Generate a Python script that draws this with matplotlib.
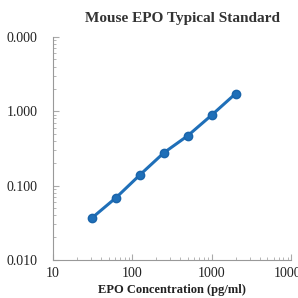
import matplotlib
matplotlib.use("Agg")
import matplotlib.pyplot as plt
from matplotlib.ticker import LogLocator, NullFormatter, FixedLocator, FixedFormatter

conc = [31.25, 62.5, 125, 250, 500, 1000, 2000]
od = [0.037, 0.069, 0.14, 0.277, 0.47, 0.89, 1.73]
xticks = [10, 100, 1000, 10000]
xticklabels = ["10", "100", "1000", "10000"]
yticks = [0.01, 0.1, 1, 10]
yticklabels = ["0.010", "0.100", "1.000", "0.000"]

plt.rcParams['font.family'] = ['Liberation Serif', 'DejaVu Serif']
fig = plt.figure(figsize=(2.98, 2.98), dpi=100)
ax = fig.add_axes([0.178, 0.128, 0.799, 0.748])
ax.plot(conc, od, color='#1f6fb8', lw=2.2, marker='o', ms=6, mec='#1a64aa', mfc='#1f6fb8')
ax.set_xscale('log')
ax.set_yscale('log')
ax.set_xlim(10, 10000)
ax.set_ylim(0.01, 10)
ax.xaxis.set_major_locator(FixedLocator(xticks))
ax.xaxis.set_major_formatter(FixedFormatter(xticklabels))
ax.yaxis.set_major_locator(FixedLocator(yticks))
ax.yaxis.set_major_formatter(FixedFormatter(yticklabels))
ax.xaxis.set_minor_locator(LogLocator(base=10, subs=range(2, 10)))
ax.yaxis.set_minor_locator(LogLocator(base=10, subs=range(2, 10)))
ax.xaxis.set_minor_formatter(NullFormatter())
ax.yaxis.set_minor_formatter(NullFormatter())
for s in ['top', 'right']:
    ax.spines[s].set_visible(False)
for s in ['left', 'bottom']:
    ax.spines[s].set_color('#999999')
    ax.spines[s].set_linewidth(0.8)
ax.tick_params(which='both', direction='in', color='#aaaaaa', labelsize=10, labelcolor='#222222')
ax.tick_params(axis='y', which='both', pad=11)
ax.tick_params(axis='x', which='both', pad=5)
ax.tick_params(which='major', length=4)
ax.tick_params(which='minor', length=2.5)
ax.set_title('Mouse EPO Typical Standard', fontsize=11, fontweight='bold', color='#333333',
             x=0.545, y=1.0, pad=11)
ax.set_xlabel('EPO Concentration (pg/ml)', fontsize=9, fontweight='bold', color='#222222', labelpad=3)
fig.savefig('out.png', dpi=100)
